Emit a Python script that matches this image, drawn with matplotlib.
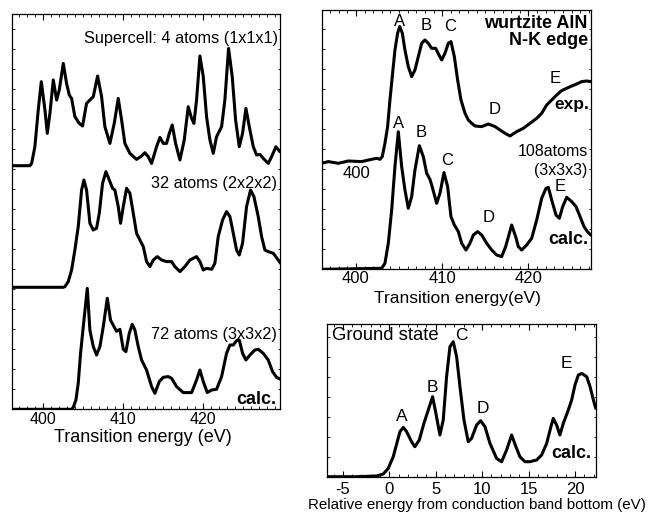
import numpy as np
import matplotlib
matplotlib.use("Agg")
import matplotlib.pyplot as plt
from matplotlib.ticker import MultipleLocator

plt.rcParams['font.family'] = ['Liberation Sans', 'DejaVu Sans']
plt.rcParams['axes.unicode_minus'] = False

# ---- left panel: supercell size dependence, transition energy (eV) ----
e_4 = [396.05, 398.34, 398.55, 398.96, 399.38, 399.76, 400.22, 400.51, 400.84, 401.26,
       401.68, 402.01, 402.51, 402.92, 403.26, 403.55, 403.96, 404.51, 404.92, 405.42,
       405.84, 406.26, 406.8, 407.3, 407.71, 408.34, 408.88, 409.38, 409.8, 410.21,
       410.84, 411.67, 412.3, 412.71, 413.13, 413.55, 414.17, 414.59, 415.01, 415.42,
       415.76, 416.13, 416.55, 417.09, 417.63, 418.13, 418.55, 418.84, 419.17, 419.59,
       420.01, 420.42, 420.84, 421.26, 421.67, 422.3, 422.71, 423.17, 423.63, 424.05,
       424.51, 424.92, 425.34, 425.76, 426.26, 426.67, 427.09, 427.51, 428.13, 428.55,
       429.09, 429.59]
i_4 = [0, 0, 2.3, 19, 55.7, 84, 55.7, 32.3, 52.3, 85.7,
       65.7, 75.7, 102.3, 82.3, 70.7, 67.3, 49, 42.3, 39.7, 62.3,
       65.7, 69, 89.7, 69, 39, 22.3, 42.3, 67.3, 45.7, 22.3,
       12.3, 6.3, 9.7, 13, 9, 2.3, 19, 28.3, 22.3, 22.3,
       32.3, 40.7, 22.3, 5.7, 25.7, 59, 47.3, 42.3, 65.7, 109.7,
       89, 49, 25.7, 12.3, 29, 39, 65.7, 117.3, 89, 45.7,
       19, 32.3, 57.3, 39, 19, 10.7, 11.3, 7.3, 2.3, 9,
       19, 14]

e_32 = [396.05, 402.51, 402.72, 403.13, 403.55, 403.96, 404.38, 404.8, 405.09, 405.42,
        405.84, 406.26, 406.67, 407.01, 407.42, 407.84, 408.26, 408.67, 408.96, 409.38,
        409.67, 410.01, 410.42, 410.84, 411.26, 411.67, 412.09, 412.51, 412.92, 413.34,
        413.76, 414.26, 414.8, 415.42, 416.05, 416.46, 417.09, 417.71, 418.34, 419.17,
        419.59, 420.01, 420.42, 421.05, 421.46, 421.88, 422.42, 422.92, 423.34, 423.76,
        424.17, 424.51, 424.92, 425.42, 425.92, 426.34, 426.88, 427.3, 427.71, 428.13,
        428.76, 429.38, 429.67]
i_32 = [0, 0, 0.7, 5.7, 17.3, 37.3, 60.7, 97.3, 107.3, 97.3,
        64, 57.3, 59, 74, 104, 115.7, 107.3, 99, 97.3, 80.7,
        64, 80.7, 99, 94, 74, 54, 47.3, 40.7, 25.7, 20.7,
        27.3, 30.7, 27.3, 25.7, 25.7, 20.7, 15.7, 20.7, 27.3, 30.7,
        25.7, 17.3, 19, 18, 24, 50.7, 67.3, 75.7, 70.7, 54,
        37.3, 32.3, 44, 80.7, 97.3, 90.7, 70.7, 50.7, 37.3, 35.7,
        34, 27.3, 24]

e_72 = [396.05, 403.55, 403.76, 404.09, 404.38, 404.67, 405.01, 405.51, 405.84, 406.26,
        406.67, 407.09, 407.51, 408.01, 408.42, 408.76, 409.17, 409.59, 410.01, 410.34,
        410.76, 411.13, 411.46, 411.88, 412.3, 412.92, 413.55, 413.96, 414.51, 415.01,
        415.63, 416.05, 416.67, 417.51, 418.55, 419.17, 419.59, 420.01, 420.51, 421.05,
        421.67, 422.3, 422.92, 423.34, 423.76, 424.17, 424.51, 424.92, 425.34, 425.84,
        426.46, 426.88, 427.51, 428.13, 428.67, 429.17, 429.67]
i_72 = [0, 0, 2, 9.3, 26, 56, 82.7, 121, 79, 62.7,
        54.3, 62.7, 82.7, 111, 89, 84, 78, 80, 60, 57.7,
        76, 85, 79.3, 62.7, 49.3, 39.3, 22.7, 16, 27.7, 32,
        32.7, 31, 22.7, 16.7, 16.7, 29.3, 39.3, 27.7, 16.7, 19.3,
        20, 32.7, 56, 64.3, 64.3, 68.7, 69.3, 56, 49.3, 54.3,
        59.3, 60, 56, 49.3, 37.7, 32, 30]

# ---- top right: wurtzite AlN N-K edge, experiment and 108-atom calculation ----
e_exp = [396.02, 396.79, 397.95, 399.11, 400.66, 401.82, 402.4, 402.78, 403.05, 403.36,
         403.67, 403.94, 404.21, 404.52, 404.83, 405.07, 405.38, 405.68, 406.07, 406.46,
         406.84, 407.23, 407.62, 408.0, 408.39, 408.78, 409.24, 409.63, 409.94, 410.32,
         410.71, 411.02, 411.41, 411.79, 412.18, 412.65, 413.03, 413.42, 413.81, 414.58,
         415.35, 416.13, 416.71, 417.29, 417.87, 418.64, 419.41, 420.19, 420.96, 421.54,
         422.12, 422.7, 423.28, 423.86, 424.44, 425.02, 425.6, 426.18, 426.76, 427.22]
i_exp = [0, 1.7, 0, 2.3, 1.7, 4, 5, 4, 6.7, 20,
         36.7, 63.3, 86.7, 113.3, 130, 136.7, 130, 113.3, 96.7, 86.7,
         93.3, 106.7, 120, 123.3, 120, 115, 115, 108.3, 103.3, 110,
         120, 121.7, 106.7, 83.3, 63.3, 50, 43.3, 40, 37.3, 36.7,
         39.3, 36.7, 33.3, 30, 27.3, 31.7, 35, 40, 45, 50,
         58.3, 63.3, 68.3, 72.7, 75, 77.3, 79.3, 81.7, 82.3, 81.7]

e_108 = [396.02, 402.98, 403.36, 403.75, 404.14, 404.52, 404.91, 405.3, 405.68, 406.07,
         406.46, 406.84, 407.35, 407.81, 408.2, 408.58, 408.78, 409.36, 409.74, 410.21,
         410.63, 411.02, 411.41, 411.87, 412.26, 412.76, 413.22, 413.61, 414.11, 414.58,
         415.16, 415.74, 416.32, 416.9, 417.36, 418.06, 418.52, 418.83, 419.22, 419.8,
         420.38, 420.96, 421.54, 422.04, 422.31, 422.7, 423.2, 423.59, 423.98, 424.44,
         425.02, 425.52, 425.99, 426.45, 426.84, 427.22]
i_108 = [0, 1, 6, 26, 59.3, 102.7, 137.6, 102.7, 79.3, 61,
         72.7, 99.3, 123.6, 112.7, 96, 90, 84.3, 66, 76, 96.7,
         82.7, 52.7, 44.3, 37.7, 26, 19.3, 26, 34.3, 37.7, 34.3,
         26, 19.3, 14.3, 12.7, 22.7, 44.3, 32.7, 22.7, 19.3, 24.3,
         31, 49.3, 71, 81, 82, 69.3, 54.3, 51, 62.7, 72,
         67.7, 62.7, 52.7, 42.7, 37.7, 34.3]

# ---- bottom right: ground state, energy relative to conduction band bottom (eV) ----
e_gs = [-6.75, -3.52, -1.36, -0.65, -0.11, 0.43, 0.86, 1.15, 1.51, 1.87,
        2.4, 2.76, 3.23, 3.73, 4.2, 4.66, 5.02, 5.45, 5.81, 6.17,
        6.53, 6.89, 7.25, 7.61, 8.04, 8.5, 8.86, 9.4, 9.83, 10.3,
        10.84, 11.55, 12.09, 12.63, 13.17, 13.63, 14.06, 14.6, 15.14, 15.86,
        16.4, 16.94, 17.4, 17.65, 18.01, 18.37, 18.73, 19.27, 19.63, 19.99,
        20.35, 20.71, 21.25, 21.61, 21.97, 22.22]
i_gs = [0, 0, 0.7, 2.7, 8.3, 20, 35, 45, 49.3, 45,
        35, 30, 36.7, 53.3, 66.7, 80, 63.3, 41.7, 56.7, 100,
        130, 135, 120, 90, 56.7, 35, 38.3, 51.7, 56, 50,
        33.3, 18.3, 15, 26.7, 41.7, 30, 20, 15, 15, 16.7,
        21.7, 33.3, 50, 58.3, 51.7, 41.7, 53.3, 66.7, 76.7, 91.7,
        101.7, 103.3, 100, 90, 76.7, 68.3]

peak_names = ['A', 'B', 'C', 'D', 'E']

W, H = 648, 513
fig = plt.figure(figsize=(W / 100, H / 100), dpi=100)


def px_axes(x0, x1, ytop, ybot):
    return fig.add_axes([x0 / W, (H - ybot) / H, (x1 - x0) / W, (ybot - ytop) / H])


def style(ax, major, minor, fs, pad):
    ax.xaxis.set_major_locator(MultipleLocator(major))
    ax.xaxis.set_minor_locator(MultipleLocator(minor))
    ax.yaxis.set_major_locator(MultipleLocator(20))
    ax.tick_params(axis='x', which='major', direction='in', top=True, length=4.5,
                   width=0.8, labelsize=fs, pad=pad)
    ax.tick_params(axis='x', which='minor', direction='in', top=True, length=2.2, width=0.6)
    ax.tick_params(axis='y', which='major', direction='in', right=True, length=1.8,
                   width=0.6, labelleft=False)
    for s in ax.spines.values():
        s.set_linewidth(0.9)


lw = 2.2
kw = dict(color='black', lw=lw, solid_joinstyle='round', solid_capstyle='round')

# left panel
ax1 = px_axes(12, 280, 14, 409.3)
ax1.plot(e_4, np.array(i_4) + 243.6, **kw)
ax1.plot(e_32, np.array(i_32) + 122, **kw)
ax1.plot(e_72, i_72, **kw)
ax1.set_xlim(396.1, 429.6)
ax1.set_ylim(0, 395.3)
style(ax1, 10, 1, 11.5, 2)
ax1.text(429.3, 371.3, 'Supercell: 4 atoms (1x1x1)', ha='right', va='center', fontsize=11.7)
ax1.text(429.2, 226, '32 atoms (2x2x2)', ha='right', va='center', fontsize=11.7)
ax1.text(429.2, 74.3, '72 atoms (3x3x2)', ha='right', va='center', fontsize=11.7)
ax1.text(429.2, 9.3, 'calc.', ha='right', va='center', fontsize=13, fontweight='bold')
fig.text(143 / W, 1 - 438 / H, 'Transition energy (eV)', ha='center', va='center', fontsize=13)

# top right panel
ax2 = px_axes(322, 591, 9.5, 269.3)
ax2.plot(e_exp, np.array(i_exp) + 106, **kw)
ax2.plot(e_108, i_108, **kw)
ax2.set_xlim(396.06, 427.26)
ax2.set_ylim(0, 259.8)
style(ax2, 10, 1, 12, 1)
exp_lab = [(405.0, 247.6), (408.09, 244.3), (410.9, 242.6), (416.04, 159.3), (423.09, 191)]
calc_lab = [(404.99, 146), (407.62, 136.6), (410.52, 109.3), (415.35, 52), (423.67, 82.6)]
for name, (x, y) in zip(peak_names, exp_lab):
    ax2.text(x, y, name, ha='center', va='center', fontsize=12)
for name, (x, y) in zip(peak_names, calc_lab):
    ax2.text(x, y, name, ha='center', va='center', fontsize=12)
ax2.text(426.9, 246.3, 'wurtzite AlN', ha='right', va='center', fontsize=13, fontweight='bold')
ax2.text(426.9, 229.3, 'N-K edge', ha='right', va='center', fontsize=13, fontweight='bold')
ax2.text(427.0, 164.3, 'exp.', ha='right', va='center', fontsize=12.5, fontweight='bold')
ax2.text(426.9, 117.6, '108atoms', ha='right', va='center', fontsize=11.5)
ax2.text(426.8, 99.3, '(3x3x3)', ha='right', va='center', fontsize=11.5)
ax2.text(426.9, 30, 'calc.', ha='right', va='center', fontsize=13, fontweight='bold')
ax2.text(400.08, 96, '400', ha='center', va='center', fontsize=12)
fig.text(457 / W, 1 - 298 / H, 'Transition energy(eV)', ha='center', va='center', fontsize=12.5)

# bottom right panel
ax3 = px_axes(327, 596, 324, 476.7)
ax3.plot(e_gs, i_gs, **kw)
ax3.set_xlim(-6.7, 22.25)
ax3.set_ylim(0, 152.7)
style(ax3, 5, 1, 12, 4)
gs_lab = [(1.33, 60), (4.67, 89.4), (7.79, 141.7), (10.05, 68.4), (19.1, 113.4)]
for name, (x, y) in zip(peak_names, gs_lab):
    ax3.text(x, y, name, ha='center', va='center', fontsize=12.5)
ax3.text(-6.2, 140.7, 'Ground state', ha='left', va='center', fontsize=13.3)
ax3.text(21.8, 23.4, 'calc.', ha='right', va='center', fontsize=13, fontweight='bold')
fig.text(477 / W, 1 - 505 / H, 'Relative energy from conduction band bottom (eV)',
         ha='center', va='center', fontsize=10.9)

fig.savefig('out.png', dpi=100)
